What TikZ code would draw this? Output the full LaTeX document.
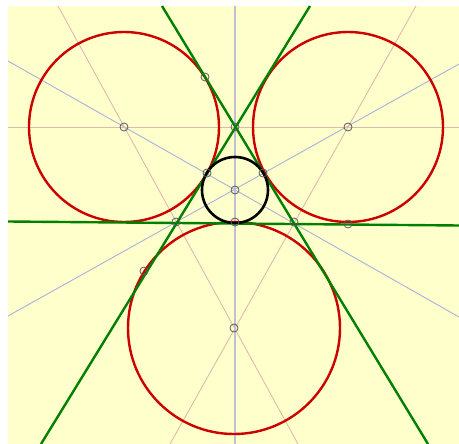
\documentclass[tikz,border=0pt]{standalone}
\begin{document}
\begin{tikzpicture}[x=1pt,y=-1pt,
  bisline/.style={draw={rgb,255:red,168;green,178;blue,222},line width=0.9pt},
  extline/.style={draw={rgb,255:red,222;green,186;blue,172},line width=0.9pt},
  axisline/.style={draw={rgb,255:red,190;green,192;blue,212},line width=1.3pt},
  sideline/.style={draw={rgb,255:red,0;green,128;blue,0},line width=2.4pt},
  excircle/.style={draw={rgb,255:red,204;green,0;blue,0},line width=2.4pt},
  incircle/.style={draw=black,line width=2.6pt},
  pt/.style={circle,draw={rgb,255:red,90;green,90;blue,90},line width=0.8pt,inner sep=0pt,minimum size=8pt}]
\useasboundingbox (0,0) rectangle (459,444);
\fill[white] (0,0) rectangle (459,444);
\fill[fill={rgb,255:red,255;green,255;blue,204}] (8,6) rectangle (459,444);
\begin{scope}
\clip (8,6) rectangle (459,444);
% frame end points
\coordinate (b1s) at (8,61);   \coordinate (b1e) at (459,317);
\coordinate (b2s) at (459,64); \coordinate (b2e) at (8,316);
\coordinate (e1s) at (58,6);   \coordinate (e1e) at (298,444);
\coordinate (e2s) at (416,6);  \coordinate (e2e) at (170,444);
\coordinate (e3s) at (8,127);  \coordinate (e3e) at (459,127);
\coordinate (vs) at (235,6);   \coordinate (ve) at (235,444);
\coordinate (g1s) at (310,6);  \coordinate (g1e) at (41,444);
\coordinate (g2s) at (162,6);  \coordinate (g2e) at (428,444);
\coordinate (g3s) at (8,221.5); \coordinate (g3e) at (459,225.5);
% thin construction lines
\draw[bisline] (b1s) -- (b1e);
\draw[bisline] (b2s) -- (b2e);
\draw[extline] (e1s) -- (e1e);
\draw[extline] (e2s) -- (e2e);
\draw[extline] (e3s) -- (e3e);
\draw[axisline] (vs) -- (ve);
% circles
\draw[excircle] (124,127) circle (95);
\draw[excircle] (348,127) circle (95);
\draw[excircle] (234,328) circle (106);
% triangle sides
\draw[sideline] (g1s) -- (g1e);
\draw[sideline] (g2s) -- (g2e);
\draw[sideline] (g3s) -- (g3e);
\draw[incircle] (235,190) circle (33);
\end{scope}
% points
\node[pt] (I)  at (235,190) {};
\node[pt] (A)  at (235,127) {};
\node[pt] (Ic) at (124,127) {};
\node[pt] (Ib) at (348,127) {};
\node[pt] (Ia) at (234,328) {};
\node[pt] (T1) at (207,173) {};
\node[pt] (T2) at (263,173) {};
\node[pt] (T3) at (235,222) {};
\node[pt] (B)  at (176,222) {};
\node[pt] (C)  at (294,222) {};
\node[pt] (Tc) at (205,77) {};
\node[pt] (Ta) at (144,271) {};
\node[pt] (Tb) at (348,224) {};
\end{tikzpicture}
\end{document}
